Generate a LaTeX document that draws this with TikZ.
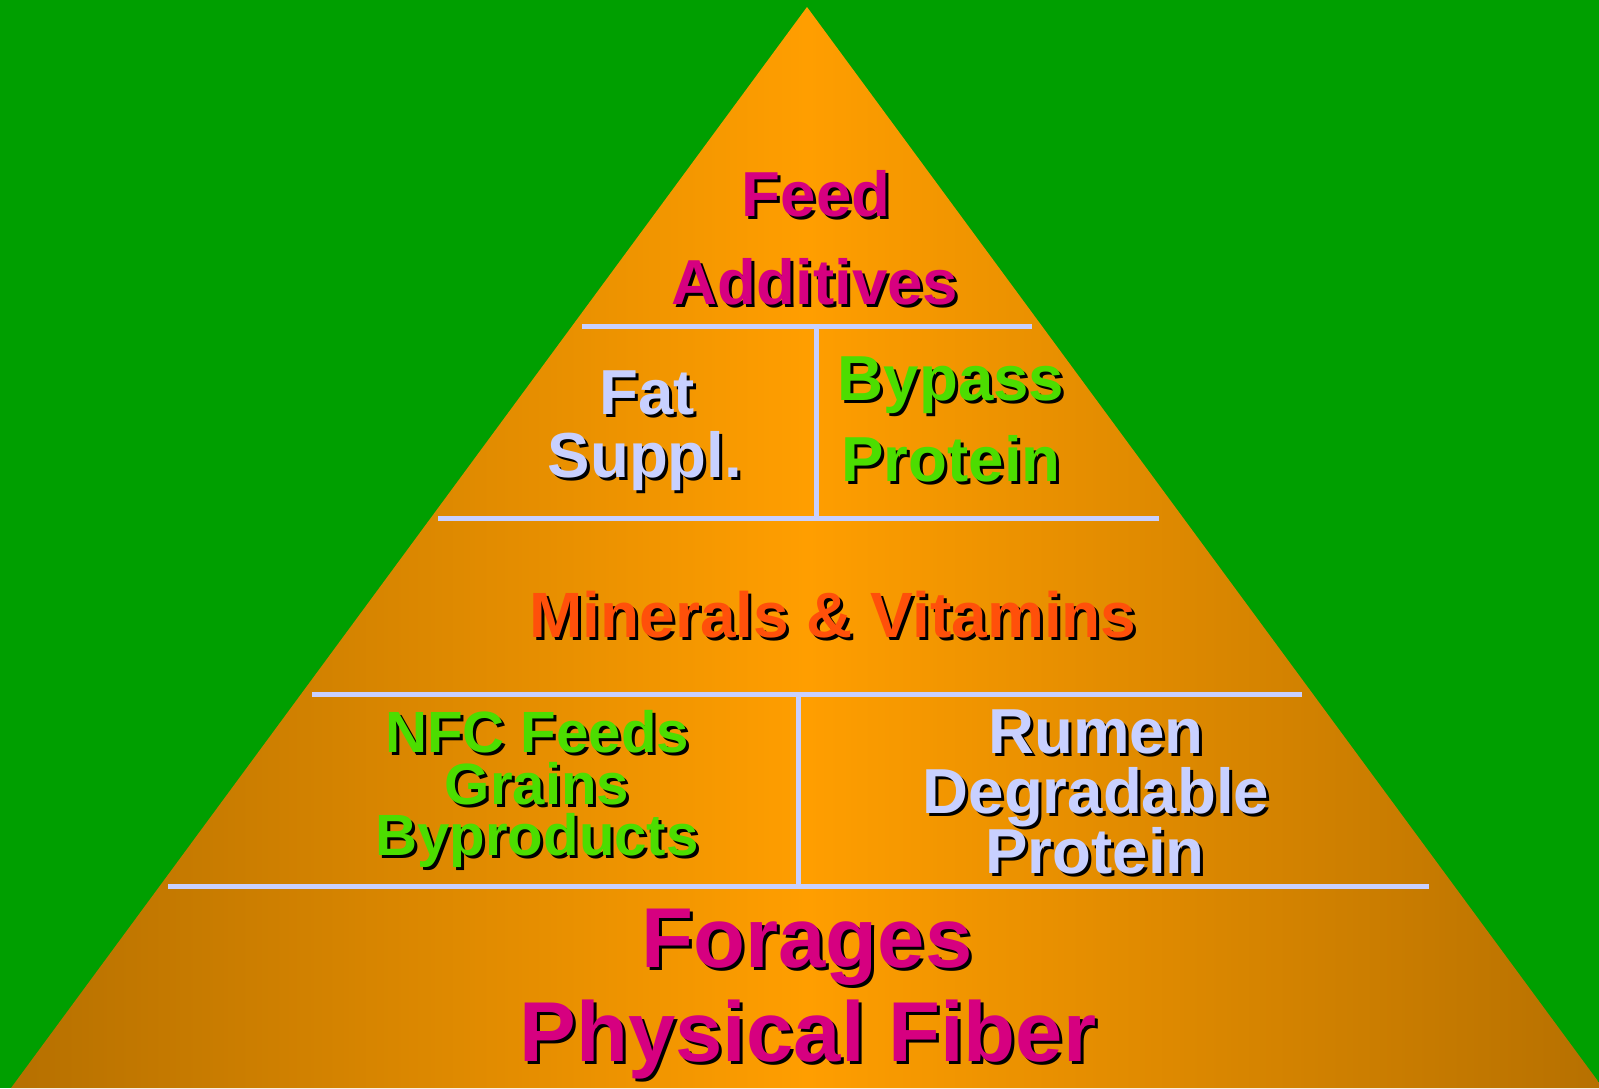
\documentclass[tikz,border=0pt]{standalone}
\usepackage{fontspec}
\setmainfont{Liberation Sans}
\usepackage{tikz}
\usetikzlibrary{calc}
\definecolor{bggreen}{RGB}{0,159,0}
\definecolor{pyrlight}{RGB}{255,158,0}
\definecolor{pyrdark}{RGB}{182,112,0}
\definecolor{divline}{RGB}{200,208,255}
\definecolor{txtmagenta}{RGB}{214,0,128}
\definecolor{txtgreen}{RGB}{76,221,0}
\definecolor{txtorange}{RGB}{255,80,10}
\newcommand{\fmid}{\fontsize{31.8}{36}\selectfont\bfseries}
\newcommand{\fsmall}{\fontsize{29.1}{33}\selectfont\bfseries}
\newcommand{\fbig}{\fontsize{42.5}{48}\selectfont\bfseries}
% one line of text with its black drop shadow
\newcommand{\pyrline}[5]{%
  \node[pyrtext,text=black,font=#3] (#1-sh) at ([shift={(3,3)}]#2) {#5};
  \node[pyrtext,text=#4,font=#3] (#1) at (#2) {#5};}

\begin{document}
\begin{tikzpicture}[x=0.5pt,y=-0.5pt,
  pyrtext/.style={anchor=base,inner sep=0pt},
  divider/.style={draw=divline,line width=2.5pt}]
\useasboundingbox[fill=bggreen] (0,0) rectangle (1599,1088);
% pyramid
\shade[left color=pyrdark,right color=pyrdark,middle color=pyrlight]
  (11,1088) -- (807,7) -- (1603,1088) -- cycle;
% dividers
\draw[divider] (582,326) -- (1032,326);
\draw[divider] (816,326) -- (816,518);
\draw[divider] (438,518) -- (1159,518);
\draw[divider] (312,694.5) -- (1302,694.5);
\draw[divider] (798.5,694.5) -- (798.5,886.5);
\draw[divider] (168,886.5) -- (1429,886.5);
% labels
\pyrline{feed}{816,216}{\fmid}{txtmagenta}{Feed}
\pyrline{additives}{815,304}{\fmid}{txtmagenta}{Additives}
\pyrline{fat}{647,414}{\fmid}{divline}{Fat}
\pyrline{suppl}{645,477}{\fmid}{divline}{Suppl.}
\pyrline{bypass}{951,400}{\fmid}{txtgreen}{Bypass}
\pyrline{protein-a}{951,481}{\fmid}{txtgreen}{Protein}
\pyrline{minerals}{833,637}{\fontsize{32}{36}\selectfont\bfseries}{txtorange}{Minerals \& Vitamins}
\pyrline{nfc}{537,752}{\fsmall}{txtgreen}{NFC Feeds}
\pyrline{grains}{537,804}{\fsmall}{txtgreen}{Grains}
\pyrline{byproducts}{537,855}{\fsmall}{txtgreen}{Byproducts}
\pyrline{rumen}{1096,753}{\fmid}{divline}{Rumen}
\pyrline{degradable}{1096,813}{\fmid}{divline}{Degradable}
\pyrline{protein-b}{1095,873}{\fmid}{divline}{Protein}
\pyrline{forages}{807,967}{\fbig}{txtmagenta}{Forages}
\pyrline{fiber}{808,1061}{\fbig}{txtmagenta}{Physical Fiber}
\end{tikzpicture}
\end{document}
